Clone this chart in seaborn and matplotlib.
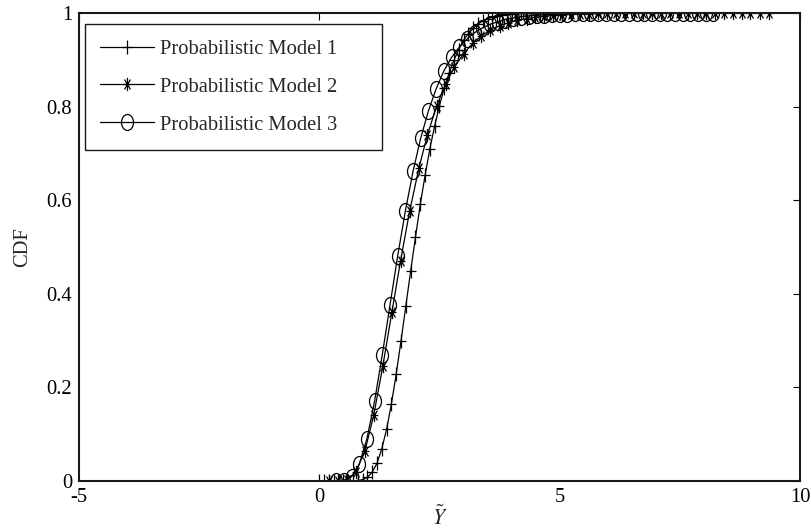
import numpy as np
import pandas as pd
import seaborn as sns
import matplotlib.pyplot as plt
from matplotlib.path import Path
from matplotlib.markers import MarkerStyle
from matplotlib.transforms import Affine2D

# Probabilistic Model 1 (plus markers)
x_model1 = [0.0, 0.1, 0.2, 0.3, 0.4, 0.5, 0.6, 0.7, 0.8, 0.9,
            1.0, 1.1, 1.2, 1.3, 1.4, 1.5, 1.6, 1.7, 1.8, 1.9,
            2.0, 2.1, 2.2, 2.3, 2.4, 2.5, 2.6, 2.7, 2.8, 2.9,
            3.0, 3.1, 3.2, 3.3, 3.4, 3.5, 3.6, 3.7, 3.8, 3.9,
            4.0, 4.1, 4.2, 4.3, 4.4, 4.5, 4.6, 4.7, 4.8, 4.9]
cdf_model1 = [0.0, 0.0, 0.0, 0.0, 0.0, 0.0, 0.0, 0.0001, 0.0006, 0.003,
              0.008, 0.019, 0.038, 0.069, 0.111, 0.165, 0.229, 0.300, 0.374, 0.449,
              0.521, 0.591, 0.653, 0.710, 0.759, 0.802, 0.840, 0.872, 0.899, 0.922,
              0.942, 0.956, 0.967, 0.976, 0.983, 0.988, 0.991, 0.994, 0.996, 0.997,
              0.998, 0.999, 0.999, 0.999, 0.999, 1.0, 1.0, 1.0, 1.0, 1.0]

# Probabilistic Model 2 (asterisk markers)
x_model2 = [0.20, 0.39, 0.57, 0.76, 0.95, 1.13, 1.32, 1.51, 1.69, 1.88,
            2.07, 2.25, 2.44, 2.63, 2.81, 3.00, 3.19, 3.37, 3.56, 3.75,
            3.93, 4.12, 4.31, 4.49, 4.68, 4.87, 5.05, 5.24, 5.43, 5.61,
            5.80, 5.99, 6.17, 6.36, 6.55, 6.73, 6.92, 7.11, 7.29, 7.48,
            7.67, 7.85, 8.04, 8.23, 8.41, 8.60, 8.79, 8.97, 9.16, 9.35]
cdf_model2 = [0.0, 0.0001, 0.003, 0.019, 0.065, 0.140, 0.245, 0.361, 0.471, 0.577,
              0.668, 0.740, 0.801, 0.849, 0.885, 0.913, 0.935, 0.951, 0.963, 0.973,
              0.979, 0.984, 0.988, 0.991, 0.993, 0.995, 0.996, 0.997, 0.998, 0.998,
              0.999, 0.999, 0.999, 0.999, 1.0, 1.0, 1.0, 1.0, 1.0, 1.0,
              1.0, 1.0, 1.0, 1.0, 1.0, 1.0, 1.0, 1.0, 1.0, 1.0]

# Probabilistic Model 3 (circle markers)
x_model3 = [0.35, 0.51, 0.67, 0.83, 0.99, 1.15, 1.31, 1.47, 1.63, 1.79,
            1.95, 2.11, 2.27, 2.43, 2.59, 2.75, 2.91, 3.07, 3.23, 3.39,
            3.55, 3.71, 3.87, 4.03, 4.19, 4.36, 4.52, 4.68, 4.84, 5.00,
            5.16, 5.32, 5.48, 5.64, 5.80, 5.96, 6.12, 6.28, 6.44, 6.60,
            6.76, 6.92, 7.08, 7.24, 7.40, 7.56, 7.72, 7.88, 8.04, 8.20]
cdf_model3 = [0.0, 0.001, 0.009, 0.036, 0.090, 0.171, 0.270, 0.376, 0.481, 0.577,
              0.662, 0.733, 0.791, 0.838, 0.876, 0.905, 0.927, 0.944, 0.958, 0.968,
              0.976, 0.981, 0.986, 0.989, 0.992, 0.994, 0.995, 0.996, 0.997, 0.998,
              0.998, 0.999, 0.999, 0.999, 1.0, 1.0, 1.0, 1.0, 1.0, 1.0,
              1.0, 1.0, 1.0, 1.0, 1.0, 1.0, 1.0, 1.0, 1.0, 1.0]

labels = ['Probabilistic Model 1', 'Probabilistic Model 2', 'Probabilistic Model 3']
x_ticks = [-5, 0, 5, 10]
y_ticks = [0, 0.2, 0.4, 0.6, 0.8, 1]
y_tick_labels = ['0', '0.2', '0.4', '0.6', '0.8', '1']

sns.set_style('white')
plt.rcParams['font.family'] = ['Liberation Serif', 'DejaVu Serif']
plt.rcParams['mathtext.fontset'] = 'stix'
plt.rcParams['axes.unicode_minus'] = False

# markers look vertically stretched in the original, so build them by hand
M, L = Path.MOVETO, Path.LINETO
plus_path = Path([(0, -1), (0, 1), (-0.65, 0), (0.65, 0)], [M, L, M, L])
d = 0.45
star_path = Path([(0, -1), (0, 1), (-0.6, 0), (0.6, 0),
                  (-d, -0.75), (d, 0.75), (-d, 0.75), (d, -0.75)],
                 [M, L, M, L, M, L, M, L])
ellipse_path = Path.unit_circle().transformed(Affine2D().scale(0.75, 1.0))
markers = [MarkerStyle(plus_path), MarkerStyle(star_path), MarkerStyle(ellipse_path)]
sizes = [10.5, 9.5, 11.5]
font_size = 14.8

fig = plt.figure(figsize=(8.12, 5.32), dpi=100)
ax = fig.add_axes([79 / 812, 1 - 481 / 532, (800 - 79) / 812, (481 - 13) / 532])

series = [(x_model1, cdf_model1), (x_model2, cdf_model2), (x_model3, cdf_model3)]
for (xs, ys), lab, mk, ms in zip(series, labels, markers, sizes):
    df = pd.DataFrame({'x': xs, 'cdf': ys})
    sns.lineplot(data=df, x='x', y='cdf', ax=ax, color='black', lw=0.9,
                 marker=mk, markersize=ms, mfc='none', mec='black', mew=0.9,
                 label=lab)

ax.set_xlim(-5, 10)
ax.set_ylim(0, 1)
ax.set_xticks(x_ticks)
ax.set_xticklabels([str(t) for t in x_ticks])
ax.set_yticks(y_ticks)
ax.set_yticklabels(y_tick_labels)
ax.tick_params(direction='in', length=5, width=0.8, top=True, right=True,
               labelsize=font_size, colors='black', pad=5)
for sp in ax.spines.values():
    sp.set_visible(True)
    sp.set_color('#1a1a1a')
    sp.set_linewidth(1.5)

ax.set_xlabel(r'$\tilde{Y}$', fontsize=15.5, labelpad=-1)
ax.set_ylabel('CDF', fontsize=font_size, labelpad=10)

# legend box is wider than its text in the original: stretch it to a fixed width
leg = ax.legend(loc='upper left', bbox_to_anchor=(0.0083, 0.9765, 0.412, 0.0),
                mode='expand', fontsize=font_size,
                frameon=True, fancybox=False, edgecolor='#1a1a1a', framealpha=1,
                handlelength=2.6, handletextpad=0.3, labelspacing=0.9,
                borderpad=0.75, borderaxespad=0)
leg.get_frame().set_linewidth(1.0)

fig.savefig('out.png', dpi=100)
